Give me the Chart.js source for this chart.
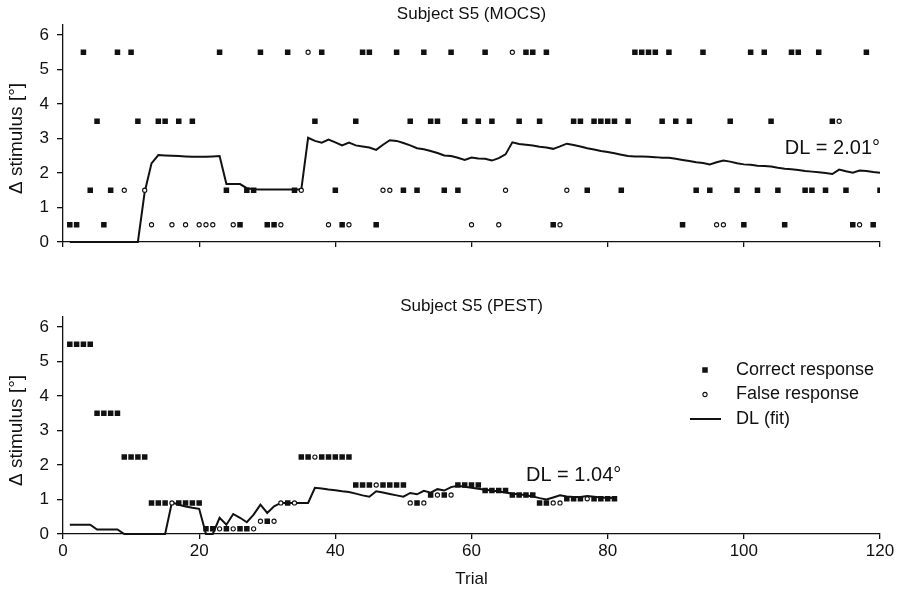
<!DOCTYPE html>
<html>
<head>
<meta charset="utf-8">
<script src="https://cdn.jsdelivr.net/npm/chart.js@4.4.1/dist/chart.umd.min.js"></script>
<style>
  html, body { margin: 0; padding: 0; background: #fff; }
  #wrap { position: relative; width: 909px; height: 593px; }
  #mocs { position: absolute; left: 0; top: 0; }
  #pest { position: absolute; left: 0; top: 292px; }
</style>
</head>
<body>
<div id="wrap">
  <canvas id="mocs" width="909" height="270"></canvas>
  <canvas id="pest" width="909" height="301"></canvas>
</div>
<script>
// Axis ticks
const xTicks = [0, 20, 40, 60, 80, 100, 120];
const yTicks = [0, 1, 2, 3, 4, 5, 6];

// MOCS session: stimulus level per trial (1..120), response (1 = correct, 0 = false), fitted DL
const mocsLevel = [
  0.5, 0.5, 5.5, 1.5, 3.5, 0.5, 1.5, 5.5, 1.5, 5.5,
  3.5, 1.5, 0.5, 3.5, 3.5, 0.5, 3.5, 0.5, 3.5, 0.5,
  0.5, 0.5, 5.5, 1.5, 0.5, 0.5, 1.5, 1.5, 5.5, 0.5,
  0.5, 0.5, 5.5, 1.5, 1.5, 5.5, 3.5, 5.5, 0.5, 1.5,
  0.5, 0.5, 3.5, 5.5, 5.5, 0.5, 1.5, 1.5, 5.5, 1.5,
  3.5, 1.5, 5.5, 3.5, 3.5, 1.5, 5.5, 1.5, 3.5, 0.5,
  3.5, 5.5, 3.5, 0.5, 1.5, 5.5, 3.5, 5.5, 5.5, 3.5,
  5.5, 0.5, 0.5, 1.5, 3.5, 3.5, 1.5, 3.5, 3.5, 3.5,
  3.5, 1.5, 3.5, 5.5, 5.5, 5.5, 5.5, 3.5, 5.5, 3.5,
  0.5, 3.5, 1.5, 5.5, 1.5, 0.5, 0.5, 3.5, 1.5, 0.5,
  5.5, 1.5, 5.5, 3.5, 1.5, 0.5, 5.5, 5.5, 1.5, 1.5,
  5.5, 1.5, 3.5, 3.5, 1.5, 0.5, 0.5, 5.5, 0.5, 1.5
];
const mocsCorrect = [
  1, 1, 1, 1, 1, 1, 1, 1, 0, 1,
  1, 0, 0, 1, 1, 0, 1, 0, 1, 0,
  0, 0, 1, 1, 0, 1, 1, 1, 1, 1,
  1, 0, 1, 1, 0, 0, 1, 1, 0, 1,
  1, 0, 1, 1, 1, 1, 0, 0, 1, 1,
  1, 1, 1, 1, 1, 1, 1, 1, 1, 0,
  1, 1, 1, 0, 0, 0, 1, 1, 1, 1,
  1, 1, 0, 0, 1, 1, 1, 1, 1, 1,
  1, 1, 1, 1, 1, 1, 1, 1, 1, 1,
  1, 1, 1, 1, 1, 0, 0, 1, 1, 1,
  1, 1, 1, 1, 1, 1, 1, 1, 1, 1,
  1, 1, 1, 0, 1, 1, 0, 1, 1, 1
];
const mocsDL = [
  0, 0, 0, 0, 0, 0, 0, 0, 0, 0,
  0, 1.45, 2.28, 2.52, 2.51, 2.50, 2.49, 2.48, 2.47, 2.47,
  2.47, 2.48, 2.49, 1.68, 1.68, 1.68, 1.56, 1.53, 1.52, 1.52,
  1.52, 1.52, 1.52, 1.52, 1.52, 3.02, 2.93, 2.88, 2.97, 2.89,
  2.80, 2.88, 2.80, 2.77, 2.74, 2.67, 2.82, 2.95, 2.93, 2.87,
  2.80, 2.72, 2.69, 2.64, 2.58, 2.51, 2.49, 2.44, 2.38, 2.45,
  2.42, 2.41, 2.36, 2.43, 2.54, 2.89, 2.84, 2.82, 2.80, 2.76,
  2.74, 2.70, 2.77, 2.85, 2.81, 2.77, 2.72, 2.68, 2.64, 2.61,
  2.57, 2.53, 2.49, 2.48, 2.48, 2.47, 2.46, 2.44, 2.44, 2.41,
  2.38, 2.35, 2.31, 2.29, 2.25, 2.31, 2.36, 2.33, 2.28, 2.25,
  2.24, 2.21, 2.20, 2.19, 2.15, 2.12, 2.11, 2.09, 2.06, 2.04,
  2.02, 2.00, 1.97, 2.10, 2.05, 2.01, 2.07, 2.06, 2.03, 2.01
];

// PEST session: stimulus level per trial (1..81), response, fitted DL
const pestLevel = [
  5.5, 5.5, 5.5, 5.5, 3.5, 3.5, 3.5, 3.5, 2.23, 2.23,
  2.23, 2.23, 0.9, 0.9, 0.9, 0.9, 0.9, 0.9, 0.9, 0.9,
  0.15, 0.15, 0.15, 0.15, 0.15, 0.15, 0.15, 0.15, 0.37, 0.37,
  0.37, 0.9, 0.9, 0.9, 2.23, 2.23, 2.23, 2.23, 2.23, 2.23,
  2.23, 2.23, 1.42, 1.42, 1.42, 1.42, 1.42, 1.42, 1.42, 1.42,
  0.9, 0.9, 0.9, 1.13, 1.13, 1.13, 1.13, 1.42, 1.42, 1.42,
  1.42, 1.26, 1.26, 1.26, 1.26, 1.13, 1.13, 1.13, 1.13, 0.9,
  0.9, 0.9, 0.9, 1.02, 1.02, 1.02, 1.02, 1.02, 1.02, 1.02,
  1.02
];
const pestCorrect = [
  1, 1, 1, 1, 1, 1, 1, 1, 1, 1,
  1, 1, 1, 1, 1, 0, 1, 1, 1, 1,
  1, 1, 0, 1, 0, 1, 1, 0, 0, 1,
  0, 0, 1, 0, 1, 1, 0, 1, 1, 1,
  1, 1, 1, 1, 1, 0, 1, 1, 1, 1,
  0, 1, 0, 1, 0, 1, 0, 1, 1, 1,
  1, 1, 1, 1, 1, 1, 1, 1, 1, 1,
  1, 0, 0, 1, 1, 1, 0, 1, 1, 1,
  1
];
const pestDL = [
  0.27, 0.27, 0.27, 0.27, 0.13, 0.13, 0.13, 0.13, 0, 0,
  0, 0, 0, 0, 0, 0.92, 0.85, 0.80, 0.76, 0.73,
  0, 0, 0.47, 0.27, 0.58, 0.47, 0.34, 0.56, 0.85, 0.61,
  0.80, 0.90, 0.90, 0.90, 0.90, 0.90, 1.34, 1.32, 1.29, 1.27,
  1.24, 1.22, 1.17, 1.12, 1.08, 1.24, 1.20, 1.16, 1.12, 1.08,
  1.19, 1.15, 1.25, 1.20, 1.30, 1.26, 1.36, 1.40, 1.37, 1.34,
  1.31, 1.28, 1.26, 1.23, 1.20, 1.17, 1.15, 1.12, 1.09, 1.04,
  1.00, 1.06, 1.12, 1.09, 1.07, 1.07, 1.10, 1.08, 1.06, 1.05,
  1.04
];

const FONT = "'Liberation Sans', Arial, Helvetica, sans-serif";
const INK = '#111';

// Rotated y-axis caption centred on the 0..6 range
const yCaption = {
  id: 'yCaption',
  afterDraw(chart, args, o) {
    const ctx = chart.ctx, ys = chart.scales.y;
    ctx.save();
    ctx.translate(o.x, ys.getPixelForValue(o.at));
    ctx.rotate(-Math.PI / 2);
    ctx.font = o.size + 'px ' + FONT;
    ctx.fillStyle = INK;
    ctx.textAlign = 'center';
    ctx.textBaseline = 'middle';
    ctx.fillText(o.text, 0, 0);
    ctx.restore();
  }
};

// "DL = ..." note placed in data coordinates
const dlNote = {
  id: 'dlNote',
  afterDatasetsDraw(chart, args, o) {
    const ctx = chart.ctx;
    ctx.save();
    ctx.font = o.size + 'px ' + FONT;
    ctx.fillStyle = INK;
    ctx.textAlign = o.align;
    ctx.textBaseline = 'middle';
    ctx.fillText(o.text, chart.scales.x.getPixelForValue(o.x), chart.scales.y.getPixelForValue(o.y));
    ctx.restore();
  }
};

// Legend drawn inside the plot area, reusing each dataset's own style
const innerLegend = {
  id: 'innerLegend',
  afterDraw(chart, args, o) {
    if (!o.show) return;
    const ctx = chart.ctx;
    ctx.save();
    ctx.font = o.size + 'px ' + FONT;
    ctx.textBaseline = 'middle';
    ctx.textAlign = 'left';
    chart.data.datasets.forEach((ds, i) => {
      const y = o.y + i * o.gap;
      if (ds.type === 'line') {
        ctx.strokeStyle = ds.borderColor;
        ctx.lineWidth = ds.borderWidth;
        ctx.beginPath();
        ctx.moveTo(o.x - 15, y);
        ctx.lineTo(o.x + 16, y);
        ctx.stroke();
      } else {
        ctx.fillStyle = ds.backgroundColor;
        ctx.strokeStyle = ds.borderColor;
        ctx.lineWidth = ds.borderWidth;
        Chart.helpers.drawPoint(ctx, {
          pointStyle: ds.pointStyle, radius: ds.pointRadius,
          borderWidth: ds.borderWidth, rotation: 0
        }, o.x, y);
      }
      ctx.fillStyle = INK;
      ctx.fillText(ds.label, o.textX, y);
    });
    ctx.restore();
  }
};

function points(level, flags, want) {
  const out = [];
  level.forEach((v, i) => { if (flags[i] === want) out.push({ x: i + 1, y: v }); });
  return out;
}

function makeChart(id, title, level, correct, dl, note, cfg) {
  return new Chart(document.getElementById(id), {
    data: {
      datasets: [
        {
          type: 'scatter', label: 'Correct response',
          data: points(level, correct, 1),
          pointStyle: 'rect', pointRadius: 3.9, pointHoverRadius: 3.9,
          backgroundColor: INK, borderColor: INK, borderWidth: 0, order: 1
        },
        {
          type: 'scatter', label: 'False response',
          data: points(level, correct, 0),
          pointStyle: 'circle', pointRadius: 2.1, pointHoverRadius: 2.1,
          backgroundColor: '#fff', borderColor: INK, borderWidth: 1.1, order: 0
        },
        {
          type: 'line', label: 'DL (fit)',
          data: dl.map((v, i) => ({ x: i + 1, y: v })),
          borderColor: INK, borderWidth: 2, pointRadius: 0,
          tension: 0, fill: false, clip: false, order: 2
        }
      ]
    },
    options: {
      responsive: false,
      animation: false,
      events: [],
      layout: { padding: { left: 0, right: 29, top: 0, bottom: 0 } },
      scales: {
        x: {
          type: 'linear', min: 0, max: 120,
          afterBuildTicks: s => { s.ticks = xTicks.map(v => ({ value: v })); },
          afterFit: s => { s.height = cfg.xHeight; },
          grid: { drawOnChartArea: false, drawTicks: true, tickLength: 5, color: INK, lineWidth: 1.3 },
          border: { display: true, color: INK, width: 1.3 },
          ticks: {
            display: cfg.xLabels, color: INK, padding: 2, maxRotation: 0, autoSkip: false,
            font: { family: FONT, size: 17 }
          },
          title: {
            display: cfg.xLabels, text: 'Trial', color: INK,
            font: { family: FONT, size: 17 }, padding: { top: 0, bottom: 3 }
          }
        },
        y: {
          type: 'linear', min: 0, max: 6.3,
          afterBuildTicks: s => { s.ticks = yTicks.map(v => ({ value: v })); },
          afterFit: s => { s.width = 63; },
          grid: { drawOnChartArea: false, drawTicks: true, tickLength: 6, color: INK, lineWidth: 1.3 },
          border: { display: true, color: INK, width: 1.3 },
          ticks: { color: INK, padding: 8, font: { family: FONT, size: 17 } }
        }
      },
      plugins: {
        legend: { display: false },
        tooltip: { enabled: false },
        title: {
          display: true, text: title, fullSize: false, color: INK,
          font: { family: FONT, size: 17, weight: 'normal' },
          padding: { top: 3.8, bottom: 0.45 }
        },
        yCaption: { text: 'Δ stimulus [°]', at: 3, x: 17, size: 19 },
        dlNote: note,
        innerLegend: cfg.legend
      }
    },
    plugins: [yCaption, dlNote, innerLegend]
  });
}

makeChart('mocs', 'Subject S5 (MOCS)', mocsLevel, mocsCorrect, mocsDL,
  { text: 'DL = 2.01°', x: 120, y: 2.7, align: 'right', size: 20 },
  { xHeight: 28, xLabels: false, legend: { show: false } });

makeChart('pest', 'Subject S5 (PEST)', pestLevel, pestCorrect, pestDL,
  { text: 'DL = 1.04°', x: 68, y: 1.69, align: 'left', size: 20 },
  { xHeight: 59, xLabels: true, legend: { show: true, x: 705, y: 78, gap: 24.5, textX: 736, size: 18 } });
</script>
</body>
</html>
